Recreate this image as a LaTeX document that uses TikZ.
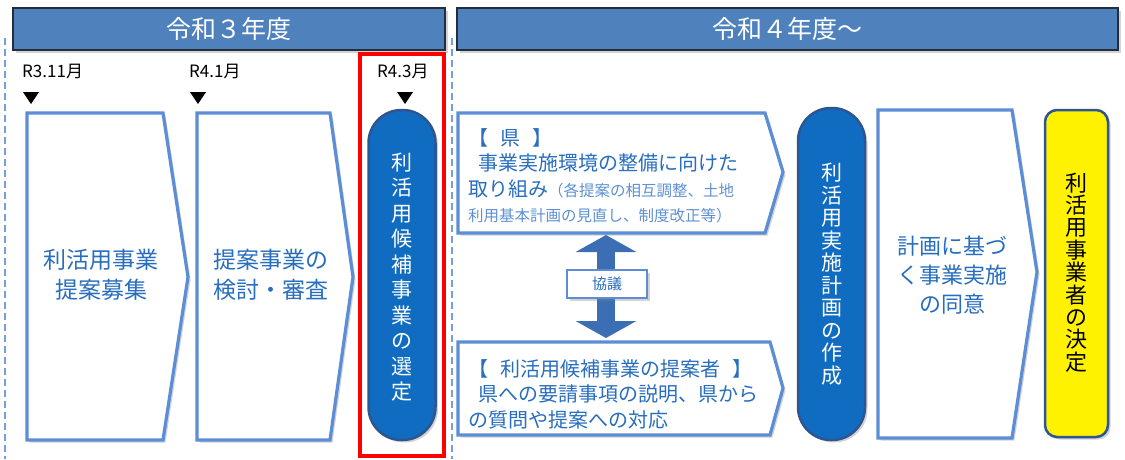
\documentclass[tikz,border=0pt]{standalone}
\usepackage{fontspec}
\setmainfont{Noto Sans CJK JP}
\usetikzlibrary{shadows,arrows.meta}
\definecolor{hdrblue}{RGB}{79,129,189}
\definecolor{hdrline}{RGB}{35,45,60}
\definecolor{boxline}{RGB}{91,142,214}
\definecolor{boxtext}{RGB}{40,110,190}
\definecolor{boxtextlt}{RGB}{95,145,210}
\definecolor{pillblue}{RGB}{16,108,192}
\definecolor{pillline}{RGB}{45,85,145}
\definecolor{arrblue}{RGB}{60,110,180}
\definecolor{selred}{RGB}{255,0,0}

\tikzset{
  shade/.style={drop shadow={opacity=0.35, shadow xshift=2.5pt, shadow yshift=-2.5pt}},
  hdr/.style={draw=hdrline, line width=1.5pt, fill=hdrblue, text=white, shade,
    font=\fontsize{25}{25}\selectfont, minimum height=42pt, inner sep=0pt},
  sep/.style={draw=boxline!85, line width=1.4pt, dash pattern=on 7pt off 4pt},
  datelbl/.style={font=\fontsize{17}{17}\selectfont, inner sep=0pt, anchor=west},
  pent/.style={draw=boxline, line width=3.2pt, fill=white, line join=miter, shade},
  bluetxt/.style={text=boxtext, inner sep=0pt},
  pill/.style={draw=pillline, line width=2.5pt, fill=pillblue, shade,
    minimum width=67pt, rounded corners=33pt, inner sep=0pt},
  tatetxt/.style={align=center, inner sep=0pt, font=\fontsize{21}{25.5}\selectfont},
}

\begin{document}
\begin{tikzpicture}[x=1pt,y=-1pt]
\useasboundingbox (0,0) rectangle (1125,459);
% headers
\node[hdr, minimum width=432pt] (h3) at (229,29) {令和３年度};
\node[hdr, minimum width=661pt] (h4) at (787.5,29) {令和４年度～};
\draw[sep] (5,38) -- (5,459);
\draw[sep] (452,38) -- (452,459);
% dates and marks
\foreach \x/\t/\m [count=\i] in {22/R3.11月/31, 189/R4.1月/198, 377/R4.3月/405}
{	\node[datelbl] (d\i) at (\x,71) {\t};
	\fill (\m-8,92) -- (\m+8,92) -- (\m,104) -- cycle;
}
\draw[selred, line width=3.5pt] (360,54) rectangle (444,456);
% year 3 steps
\draw[pent] (27,113) -- (163,113) -- (188,277) -- (163,440) -- (27,440) -- cycle;
\node[bluetxt, align=center, font=\fontsize{23}{30}\selectfont] (boshu) at (101,275)
  {利活用事業\\提案募集};
\draw[pent] (197,113) -- (330,113) -- (353,277) -- (330,440) -- (197,440) -- cycle;
\node[bluetxt, align=center, font=\fontsize{23}{30}\selectfont] (shinsa) at (271,275)
  {提案事業の\\検討・審査};
\node[pill, minimum height=330pt] (sentei) at (402,275) {};
\node[tatetxt, text=white] (senteitxt) at (402,277)
  {利\\活\\用\\候\\補\\事\\業\\の\\選\\定};
% year 4 steps
\draw[pent] (458,113) -- (765,113) -- (783,172) -- (765,233) -- (458,233) -- cycle;
\node[bluetxt, anchor=north west, align=left, font=\fontsize{20}{25.5}\selectfont] (ken) at (468,128)
  {【\hspace{12pt}県\hspace{12pt}】\\
   \hspace{10pt}事業実施環境の整備に向けた\\
   取り組み{\color{boxtextlt}\fontsize{15.5}{25}\selectfont（各提案の相互調整、土地}\\
   {\color{boxtextlt}\fontsize{15.5}{25}\selectfont 利用基本計画の見直し、制度改正等）}};
\draw[pent] (458,342) -- (770,342) -- (783,388) -- (770,435) -- (458,435) -- cycle;
\node[bluetxt, anchor=north west, align=left, font=\fontsize{20}{25.5}\selectfont] (teian) at (468,359)
  {【\hspace{12pt}利活用候補事業の提案者\hspace{12pt}】\\
   \hspace{10pt}県への要請事項の説明、県から\\
   の質問や提案への対応};
\coordinate (ken-s) at (606,235);
\coordinate (teian-n) at (606,338);
\draw[arrblue, line width=18pt, {Triangle[width=60pt,length=17pt]}-{Triangle[width=60pt,length=17pt]}]
  (ken-s) -- (teian-n);
\node[draw=boxline, line width=1.5pt, fill=white, shade, text=boxtext, minimum width=80pt,
  minimum height=28pt, inner sep=0pt, font=\fontsize{15}{15}\selectfont] (kyogi) at (607,284) {協議};
\node[pill, minimum height=332pt] (keikaku) at (831.5,274) {};
\node[tatetxt, text=white, font=\fontsize{21}{22.5}\selectfont] (keikakutxt) at (831.5,274)
  {利\\活\\用\\実\\施\\計\\画\\の\\作\\成};
\draw[pent] (878,110) -- (1012,110) -- (1037,272) -- (1012,438) -- (878,438) -- cycle;
\node[bluetxt, align=center, font=\fontsize{22}{29}\selectfont] (doi) at (952,275)
  {計画に基づ\\く事業実施\\の同意};
\node[draw=pillline, line width=2.5pt, fill=yellow, shade, rounded corners=12pt,
  minimum width=63pt, minimum height=327pt] (kettei) at (1076.5,273.5) {};
\node[tatetxt, font=\fontsize{22}{22.4}\selectfont] (ketteitxt) at (1076.5,272.5)
  {利\\活\\用\\事\\業\\者\\の\\決\\定};
\end{tikzpicture}
\end{document}
